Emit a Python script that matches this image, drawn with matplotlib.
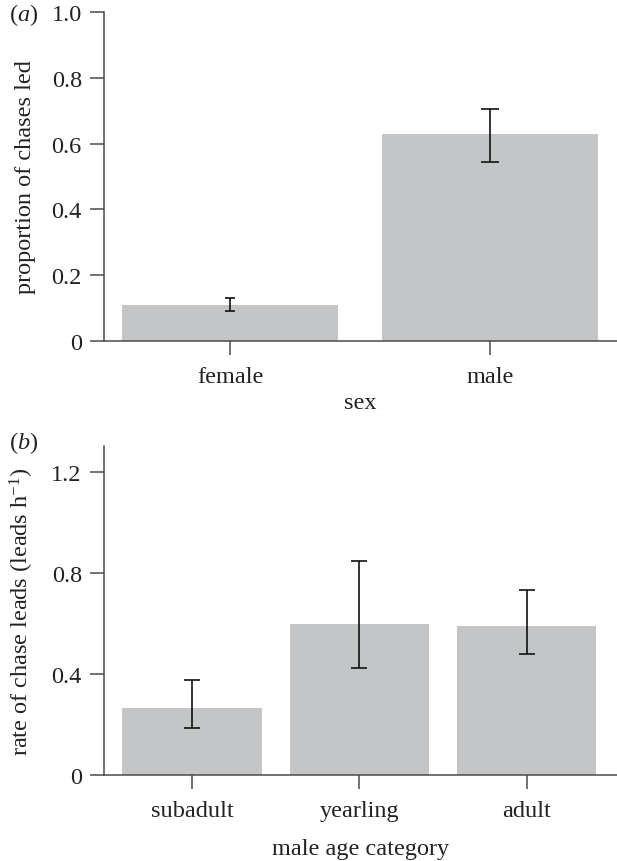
import matplotlib
matplotlib.use("Agg")
import matplotlib.pyplot as plt
import numpy as np

# ---- data ----
sex_categories = ["female", "male"]
sex_values = [0.109, 0.628]
sex_err_low = [0.091, 0.545]
sex_err_high = [0.130, 0.705]

age_categories = ["subadult", "yearling", "adult"]
age_values = [0.264, 0.596, 0.591]
age_err_low = [0.186, 0.423, 0.480]
age_err_high = [0.375, 0.845, 0.730]

plt.rcParams["font.family"] = ["Liberation Serif", "DejaVu Serif"]
plt.rcParams["mathtext.fontset"] = "custom"
plt.rcParams["mathtext.rm"] = "Liberation Serif"
plt.rcParams["mathtext.it"] = "Liberation Serif:italic"

BAR = "#c4c5c7"
SPINE = "#4a4a4a"
TXT = "#222222"
FS = 17.5

fig = plt.figure(figsize=(6.17, 8.62), dpi=100)

def style(ax):
    for s in ["top", "right"]:
        ax.spines[s].set_visible(False)
    for s in ["left", "bottom"]:
        ax.spines[s].set_color(SPINE)
        ax.spines[s].set_linewidth(1.1)
    ax.tick_params(axis="both", direction="out", length=10, width=1.1,
                   color=SPINE, labelcolor=TXT, labelsize=FS)
    ax.tick_params(axis="y", pad=6)
    ax.tick_params(axis="x", pad=8)

# panel a
axa = fig.add_axes([0.1686, 0.6036, 0.8314, 0.3810])
xa = np.arange(len(sex_categories))
axa.bar(xa, sex_values, width=0.83, color=BAR, zorder=1)
caps_a = [3.6, 6.4]
for i in range(len(xa)):
    axa.errorbar(xa[i], sex_values[i],
                 yerr=[[sex_values[i] - sex_err_low[i]], [sex_err_high[i] - sex_values[i]]],
                 fmt="none", ecolor="#111111", elinewidth=1.2, capsize=caps_a[i],
                 capthick=1.2, zorder=3)
axa.set_xlim(-0.486, 1.49)
axa.set_ylim(0, 1.0)
axa.set_yticks([0, 0.2, 0.4, 0.6, 0.8, 1.0])
axa.set_yticklabels(["0", "0.2", "0.4", "0.6", "0.8", "1.0"])
axa.set_xticks(xa)
axa.set_xticklabels(sex_categories)
style(axa)
axa.set_ylabel("proportion of chases led", fontsize=FS, color=TXT, labelpad=11)
axa.set_xlabel("sex", fontsize=FS, color=TXT, labelpad=4)
fig.text(0.014, 0.983, r"($\it{a}$)", fontsize=FS, color=TXT, va="center", ha="left")

# panel b
axb = fig.add_axes([0.1686, 0.0998, 0.8314, 0.3820])
xb = np.arange(len(age_categories))
axb.bar(xb, age_values, width=0.833, color=BAR, zorder=1)
axb.errorbar(xb, age_values,
             yerr=[np.array(age_values) - np.array(age_err_low),
                   np.array(age_err_high) - np.array(age_values)],
             fmt="none", ecolor="#111111", elinewidth=1.2, capsize=5.6,
             capthick=1.2, zorder=3)
axb.set_xlim(-0.526, 2.54)
axb.set_ylim(0, 1.303)
axb.set_yticks([0, 0.4, 0.8, 1.2])
axb.set_yticklabels(["0", "0.4", "0.8", "1.2"])
axb.set_xticks(xb)
axb.set_xticklabels(age_categories)
style(axb)
axb.set_ylabel(r"rate of chase leads (leads h$^{-1}$)", fontsize=FS, color=TXT, labelpad=11)
axb.set_xlabel("male age category", fontsize=FS, color=TXT, labelpad=12)
fig.text(0.014, 0.486, r"($\it{b}$)", fontsize=FS, color=TXT, va="center", ha="left")

fig.savefig("out.png", dpi=100)
